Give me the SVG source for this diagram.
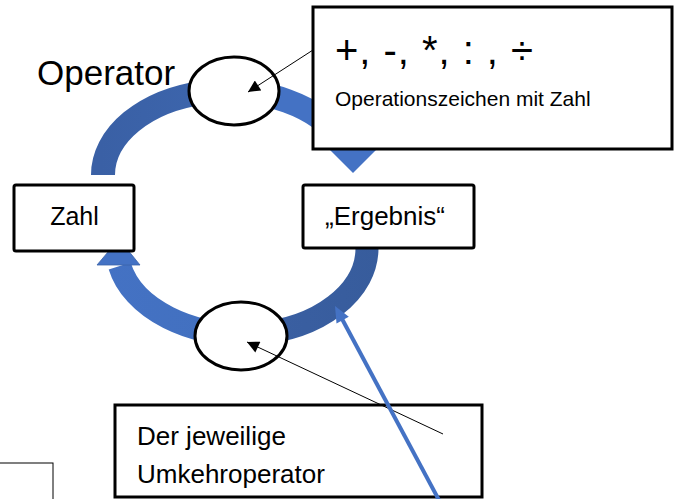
<svg xmlns="http://www.w3.org/2000/svg" width="675" height="499" viewBox="0 0 675 499">
  <style>
    .box { fill: #ffffff; stroke: #000000; stroke-width: 3; }
    .oval { fill: #ffffff; stroke: #000000; stroke-width: 3; }
    .lbl { font-family: "Liberation Sans", Arial, sans-serif; fill: #000000; }
    .pointer { stroke: #000000; stroke-width: 1; fill: none; }
  </style>
  <defs>
    <linearGradient id="gradTop" gradientUnits="userSpaceOnUse" x1="100" y1="0" x2="360" y2="0">
      <stop offset="0" stop-color="#3a60a5"/>
      <stop offset="0.5" stop-color="#3d66ae"/>
      <stop offset="0.62" stop-color="#4472c4"/>
      <stop offset="1" stop-color="#4472c4"/>
    </linearGradient>
    <linearGradient id="gradBottom" gradientUnits="userSpaceOnUse" x1="100" y1="0" x2="380" y2="0">
      <stop offset="0" stop-color="#4472c4"/>
      <stop offset="0.45" stop-color="#4270bf"/>
      <stop offset="0.6" stop-color="#3a5fa2"/>
      <stop offset="1" stop-color="#375c9c"/>
    </linearGradient>
    <marker id="headBlack" viewBox="0 0 10 10" refX="10" refY="5" markerWidth="16" markerHeight="12" markerUnits="userSpaceOnUse" orient="auto">
      <path d="M0,0 L10,5 L0,10 z" fill="#000000"/>
    </marker>
  </defs>

  <!-- cycle arrows -->
  <g id="connectors">
    <g id="arc-top">
      <path d="M103,175 A125,84 0 0 1 343.6,143" fill="none" stroke="url(#gradTop)" stroke-width="24"/>
      <polygon points="321,141 353,173 385,141" fill="#4472c4"/>
    </g>
    <g id="arc-bottom">
      <path d="M367,248 A125,86 0 0 1 119.7,266" fill="none" stroke="url(#gradBottom)" stroke-width="23"/>
      <polygon points="97,265 119,239 140,265" fill="#4472c4" stroke="#3a62a8" stroke-width="0.8"/>
    </g>
  </g>

  <g id="node-operator-oval">
    <ellipse class="oval" cx="234" cy="91" rx="45" ry="34"/>
  </g>
  <g id="node-inverse-oval">
    <ellipse class="oval" cx="241" cy="336" rx="46" ry="34"/>
  </g>

  <g id="label-operator">
    <text class="lbl" x="37" y="85" font-size="35">Operator</text>
  </g>

  <g id="node-zahl">
    <rect class="box" x="14" y="185" width="120" height="66" rx="2"/>
    <text class="lbl" x="74.5" y="225" font-size="25" text-anchor="middle">Zahl</text>
  </g>

  <g id="node-ergebnis">
    <rect class="box" x="303" y="185" width="171" height="63" rx="2"/>
    <text class="lbl" x="385" y="225" font-size="26" text-anchor="middle">„Ergebnis“</text>
  </g>

  <g id="node-operators">
    <rect class="box" x="313" y="7" width="359" height="142"/>
    <text class="lbl" x="335" y="64" font-size="40" textLength="198" lengthAdjust="spacing">+, -, *, : , ÷</text>
    <text class="lbl" x="335" y="106" font-size="21">Operationszeichen mit Zahl</text>
  </g>

  <g id="node-inverse-note">
    <rect class="box" x="115" y="405" width="367" height="92"/>
    <text class="lbl" x="137" y="445" font-size="26">Der jeweilige</text>
    <text class="lbl" x="137" y="483" font-size="26">Umkehroperator</text>
  </g>

  <g id="node-corner-box">
    <rect x="-10" y="463" width="63" height="60" fill="none" stroke="#000000" stroke-width="1"/>
  </g>

  <!-- pointers from the notes to the ovals -->
  <g id="pointers">
    <line class="pointer" x1="313" y1="50" x2="248" y2="92" marker-end="url(#headBlack)"/>
    <line class="pointer" x1="443" y1="434" x2="247" y2="342" marker-end="url(#headBlack)"/>
    <line x1="440" y1="502" x2="341" y2="317" stroke="#4472c4" stroke-width="4"/>
    <polygon points="335,306 336.5,323.4 348.8,316.7" fill="#4472c4"/>
  </g>
</svg>
